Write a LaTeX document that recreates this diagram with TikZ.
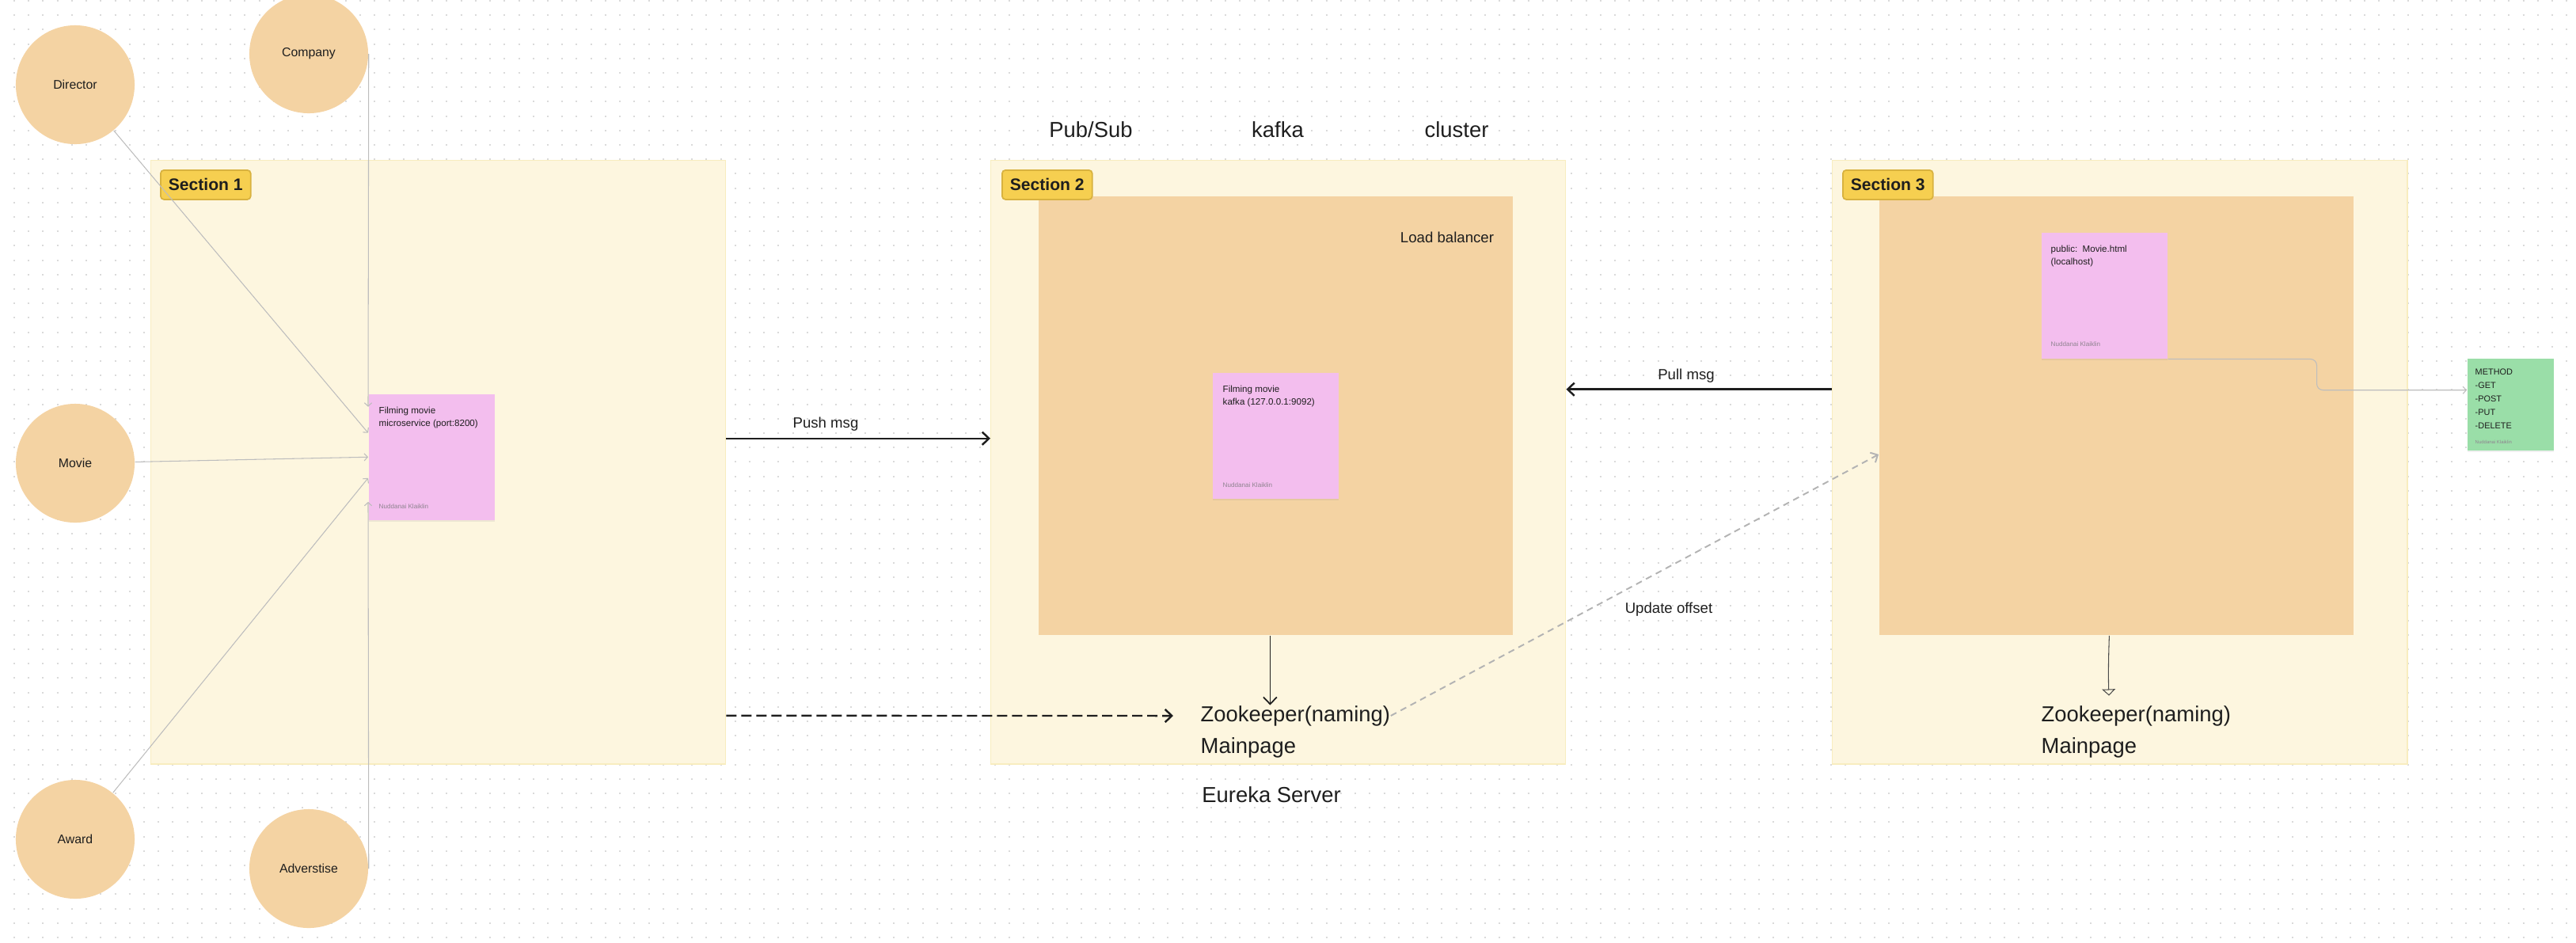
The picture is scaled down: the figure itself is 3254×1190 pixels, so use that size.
\documentclass[tikz,border=0pt]{standalone}
\usepackage{fontspec}
\setmainfont{Liberation Sans}
\usetikzlibrary{arrows.meta,positioning,shadows}
\definecolor{ink}{HTML}{1E1E1E}
\definecolor{peach}{HTML}{F4D3A3}
\definecolor{cream}{HTML}{FDF6DF}
\definecolor{creamedge}{HTML}{F8EDBF}
\definecolor{tagyellow}{HTML}{F6CF50}
\definecolor{tagedge}{HTML}{D8B23F}
\definecolor{stickypink}{HTML}{F3BEEE}
\definecolor{stickygreen}{HTML}{9ADEA8}
\definecolor{authorgray}{HTML}{8F8490}
\definecolor{linkgray}{HTML}{BDBDBD}
\definecolor{offsetgray}{HTML}{B3B3B3}
\definecolor{dotgray}{HTML}{DADADA}

\begin{document}
\begin{tikzpicture}[x=0.01cm,y=-0.01cm,
  every node/.style={inner sep=0pt,text=ink},
  dotrow/.style={draw=dotgray,line width=0.57pt,dash pattern=on 0.57pt off 4.61pt},
  entitycircle/.style={circle,fill=peach,minimum size=1.5cm,font=\fontsize{4.5pt}{5.4pt}\selectfont},
  sectionbox/.style={fill=cream,draw=creamedge,line width=0.3pt,minimum width=7.26cm,minimum height=7.62cm,anchor=north west},
  sectiontag/.style={rounded corners=1.2pt,fill=tagyellow,draw=tagedge,line width=0.5pt,minimum height=0.37cm,inner xsep=0.1cm,anchor=north west,font=\fontsize{6pt}{7pt}\selectfont\bfseries},
  clusterbox/.style={fill=peach,minimum width=5.99cm,minimum height=5.54cm,anchor=north west},
  stickynote/.style={fill=stickypink,minimum size=1.59cm,anchor=north west,drop shadow={shadow xshift=0pt,shadow yshift=-0.5pt,opacity=0.12}},
  notetext/.style={anchor=north west,align=left,font=\fontsize{3.3pt}{4.55pt}\selectfont},
  authortext/.style={anchor=base west,text=authorgray,font=\fontsize{2.3pt}{2.8pt}\selectfont},
  bigtext/.style={font=\fontsize{7.8pt}{9pt}\selectfont},
  msgtext/.style={font=\fontsize{5.3pt}{6.4pt}\selectfont},
  lightlink/.style={draw=linkgray,line width=0.3pt,-{Straight Barb[length=1.2pt,width=2.6pt]}},
  msgarrow/.style={draw=ink,line width=0.7pt,-{Straight Barb[length=2.4pt,width=4.6pt]}},
  dasharrow/.style={msgarrow,dash pattern=on 3.7pt off 1.7pt},
  downarrow/.style={draw=ink,line width=0.5pt,-{Straight Barb[length=2.5pt,width=4.8pt]}},
  offsetarrow/.style={draw=offsetgray,line width=0.55pt,dash pattern=on 2.3pt off 1.7pt,-{Straight Barb[length=2pt,width=4pt]}},
  sketcharrow/.style={draw=ink!80,line width=0.3pt,-{Triangle[open,length=2.3pt,width=4.8pt]}}]
\useasboundingbox (0,0) rectangle (3254,1190);
\foreach \yy in {1,19.2,...,1190}
  \draw[dotrow] (17,\yy) -- (3254,\yy);

\node[sectionbox] (sec1) at (190,202) {};
\node[sectionbox] (sec2) at (1251,202) {};
\node[sectionbox] (sec3) at (2314,202) {};
\node[clusterbox] (broker) at ([xshift=0.6cm,yshift=-0.45cm]sec2.north west) {};
\node[clusterbox] (frontend) at ([xshift=0.59cm,yshift=-0.45cm]sec3.north west) {};
\node[sectiontag] (tag1) at ([xshift=0.12cm,yshift=-0.12cm]sec1.north west) {Section 1};
\node[sectiontag] (tag2) at ([xshift=0.14cm,yshift=-0.12cm]sec2.north west) {Section 2};
\node[sectiontag] (tag3) at ([xshift=0.13cm,yshift=-0.12cm]sec3.north west) {Section 3};

\node[stickynote] (service) at (465,497) {};
\node[notetext] (servicetext) at ([xshift=0.13cm,yshift=-0.166cm]service.north west) {Filming movie\\microservice (port:8200)};
\node[authortext] (serviceby) at ([xshift=0.13cm,yshift=0.15cm]service.south west) {Nuddanai Klaiklin};
\node[stickynote] (kafkanote) at (1531,470) {};
\node[notetext] (kafkatext) at ([xshift=0.13cm,yshift=-0.166cm]kafkanote.north west) {Filming movie\\kafka (127.0.0.1:9092)};
\node[authortext] (kafkaby) at ([xshift=0.13cm,yshift=0.15cm]kafkanote.south west) {Nuddanai Klaiklin};
\node[stickynote] (webpage) at (2578,293) {};
\node[notetext] (webtext) at ([xshift=0.12cm,yshift=-0.166cm]webpage.north west) {public:\ \ Movie.html\\(localhost)};
\node[authortext] (webby) at ([xshift=0.12cm,yshift=0.16cm]webpage.south west) {Nuddanai Klaiklin};
\node[stickynote,fill=stickygreen,minimum width=1.09cm,minimum height=1.16cm] (method) at (3116,452) {};
\node[notetext,font=\fontsize{3.1pt}{4.84pt}\selectfont] (methodtext) at ([xshift=0.1cm,yshift=-0.13cm]method.north west) {METHOD\\-GET\\-POST\\-PUT\\-DELETE};
\node[authortext,font=\fontsize{1.7pt}{2pt}\selectfont] (methodby) at ([xshift=0.1cm,yshift=0.09cm]method.south west) {Nuddanai Klaiklin};

\node[entitycircle] (director) at (95,107) {Director};
\node[entitycircle] (company) at (390,68) {Company};
\node[entitycircle] (movie) at (95,585) {Movie};
\node[entitycircle] (award) at (95,1060) {Award};
\node[entitycircle] (adverstise) at (390,1097) {Adverstise};

\node[bigtext] (pubsub) at (1378,164) {Pub/Sub};
\node[bigtext] (kafka) at (1614,164) {kafka};
\node[bigtext] (cluster) at (1840,164) {cluster};
\node[msgtext] (balancer) at (1828,300) {Load balancer};
\node[bigtext,anchor=west] (zk2) at (1516,904) {Zookeeper(naming)};
\node[bigtext,anchor=west] (main2) at (1516,944) {Mainpage};
\node[bigtext,anchor=west] (zk3) at (2578,904) {Zookeeper(naming)};
\node[bigtext,anchor=west] (main3) at (2578,944) {Mainpage};
\node[bigtext] (eureka) at (1606,1004) {Eureka Server};
\node[msgtext] (pushlbl) at (1043,536) {Push msg};
\node[msgtext] (pulllbl) at (2130,475) {Pull msg};
\node[msgtext] (offsetlbl) at (2108,770) {Update offset};

\draw[lightlink] (company.east) -- ([yshift=0.635cm]service.west);
\draw[lightlink] (director) -- ([yshift=0.305cm]service.west);
\draw[lightlink] (movie) -- (service.west);
\draw[lightlink] (award) -- ([yshift=-0.265cm]service.west);
\draw[lightlink] (adverstise.east) -- ([yshift=-0.565cm]service.west);
\draw[lightlink,rounded corners=0.08cm] (webpage.south east) -- ++(188,0) |- ([yshift=0.18cm]method.west);

\draw[msgarrow] ([yshift=0.3cm]sec1.east) -- ([yshift=0.3cm]sec2.west);
\draw[dasharrow] ([yshift=-3.2cm]sec1.east) -- ([xshift=-0.34cm]zk2.west);
\draw[downarrow] ([xshift=-0.07cm]broker.south) -- ([xshift=-0.07cm]broker.south |- zk2.north);
\draw[msgarrow] ([yshift=0.92cm]sec3.west) -- ([yshift=0.92cm]sec2.east);
\draw[offsetarrow] (zk2.east) -- ([yshift=-0.49cm]frontend.west);
\draw[sketcharrow,shorten >=0.12cm] ([xshift=-0.09cm]frontend.south) to[bend right=2] ([xshift=-0.09cm]frontend.south |- zk3.north);
\end{tikzpicture}
\end{document}
